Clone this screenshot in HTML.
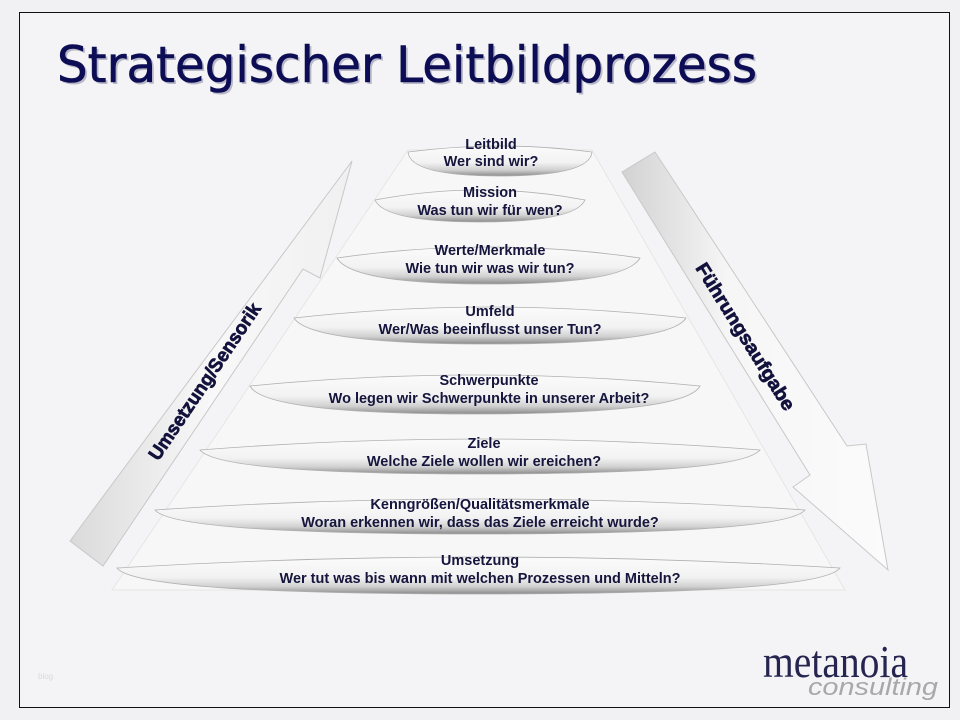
<!DOCTYPE html>
<html><head><meta charset="utf-8"><style>
html,body{margin:0;padding:0;background:#f1f1f3;}
svg{display:block}
</style></head><body>
<svg width="960" height="720" viewBox="0 0 960 720" xmlns="http://www.w3.org/2000/svg">
<defs>
<linearGradient id="band" x1="0" y1="0" x2="0" y2="1">
<stop offset="0" stop-color="#fbfbfb"/><stop offset="0.55" stop-color="#f2f2f2"/><stop offset="0.8" stop-color="#d0d0d0"/><stop offset="1" stop-color="#8a8a8a"/>
</linearGradient>
<linearGradient id="arrL" x1="0" y1="0" x2="1" y2="0">
<stop offset="0" stop-color="#dadada"/><stop offset="0.5" stop-color="#f8f8f8"/><stop offset="1" stop-color="#f0f0f0"/>
</linearGradient>
<linearGradient id="arrR" x1="0" y1="0" x2="1" y2="0">
<stop offset="0" stop-color="#d2d2d2"/><stop offset="0.4" stop-color="#f6f6f6"/><stop offset="1" stop-color="#fbfbfb"/>
</linearGradient>
</defs>
<rect x="0" y="0" width="960" height="720" fill="#f1f1f3"/>
<rect x="19.5" y="12.5" width="930" height="695" fill="#f4f4f6" stroke="#111" stroke-width="1"/>
<text x="57" y="82" font-family="DejaVu Sans, Verdana, sans-serif" font-size="50" fill="#b8b8c8" textLength="700" lengthAdjust="spacingAndGlyphs" transform="translate(2,2)">Strategischer Leitbildprozess</text>
<text x="57" y="82" font-family="DejaVu Sans, Verdana, sans-serif" font-size="50" fill="#0d0d55" stroke="#0d0d55" stroke-width="0.6" textLength="700" lengthAdjust="spacingAndGlyphs">Strategischer Leitbildprozess</text>

<polygon points="408,150 592,150 845,590 112,590" fill="#f7f7f7" stroke="#e6e6e6" stroke-width="1"/>

<polygon points="70,541 352,161 320,278 303,269 103,566" fill="url(#arrL)" stroke="#c8c8c8" stroke-width="1"/>
<polygon points="622,172 655,152 847,446 866,444 888,570 793,487 810,475" fill="url(#arrR)" stroke="#c8c8c8" stroke-width="1"/>
<text transform="translate(210,385) rotate(-56)" text-anchor="middle" font-family="Liberation Sans, sans-serif" font-weight="bold" font-size="19" fill="#12123c" stroke="#12123c" stroke-width="0.7" textLength="185" lengthAdjust="spacingAndGlyphs">Umsetzung/Sensorik</text>
<text transform="translate(740,340) rotate(58)" text-anchor="middle" font-family="Liberation Sans, sans-serif" font-weight="bold" font-size="19" fill="#12123c" stroke="#12123c" stroke-width="0.7" textLength="170" lengthAdjust="spacingAndGlyphs">Führungsaufgabe</text>

<g font-family="Liberation Sans, sans-serif" font-weight="bold" font-size="14.5" fill="#15153d" text-anchor="middle">
<g stroke="#b0b0b0" stroke-width="0.8">
<path d="M408,152 Q500,140 592,152 Q590,176 500,176 Q410,176 408,152Z" fill="url(#band)"/>
<path d="M375,200 Q480,180 585,200 Q575,222 480,222 Q385,222 375,200Z" fill="url(#band)"/>
<path d="M337,258 Q490,236 640,258 Q625,284 490,284 Q352,284 337,258Z" fill="url(#band)"/>
<path d="M294,318 Q490,296 686,318 Q670,344 490,344 Q310,344 294,318Z" fill="url(#band)"/>
<path d="M250,386 Q475,364 700,386 Q685,414 475,414 Q265,414 250,386Z" fill="url(#band)"/>
<path d="M200,450 Q480,428 760,450 Q740,474 480,474 Q220,474 200,450Z" fill="url(#band)"/>
<path d="M155,510 Q480,488 805,510 Q785,534 480,534 Q175,534 155,510Z" fill="url(#band)"/>
<path d="M117,568 Q480,546 840,568 Q820,594 480,594 Q137,594 117,568Z" fill="url(#band)"/>
</g>
<text x="491" y="149">Leitbild</text><text x="491" y="166">Wer sind wir?</text>
<text x="490" y="197">Mission</text><text x="490" y="215">Was tun wir für wen?</text>
<text x="490" y="255">Werte/Merkmale</text><text x="490" y="273">Wie tun wir was wir tun?</text>
<text x="490" y="316">Umfeld</text><text x="490" y="334">Wer/Was beeinflusst unser Tun?</text>
<text x="489" y="385">Schwerpunkte</text><text x="489" y="403">Wo legen wir Schwerpunkte in unserer Arbeit?</text>
<text x="484" y="448">Ziele</text><text x="484" y="466">Welche Ziele wollen wir ereichen?</text>
<text x="480" y="509">Kenngrößen/Qualitätsmerkmale</text><text x="480" y="527">Woran erkennen wir, dass das Ziele erreicht wurde?</text>
<text x="480" y="565">Umsetzung</text><text x="480" y="583">Wer tut was bis wann mit welchen Prozessen und Mitteln?</text>
</g>

<text x="38" y="679" font-family="Liberation Sans, sans-serif" font-size="8" fill="#d8d8d8">blog</text>
<text x="763" y="677" font-family="Liberation Serif, serif" font-size="46" fill="#252550" textLength="145" lengthAdjust="spacingAndGlyphs">metanoia</text>
<text x="808" y="695" font-family="Liberation Sans, sans-serif" font-style="italic" font-size="24" fill="#a8a8a8" textLength="130" lengthAdjust="spacingAndGlyphs">consulting</text>
</svg>
</body></html>
